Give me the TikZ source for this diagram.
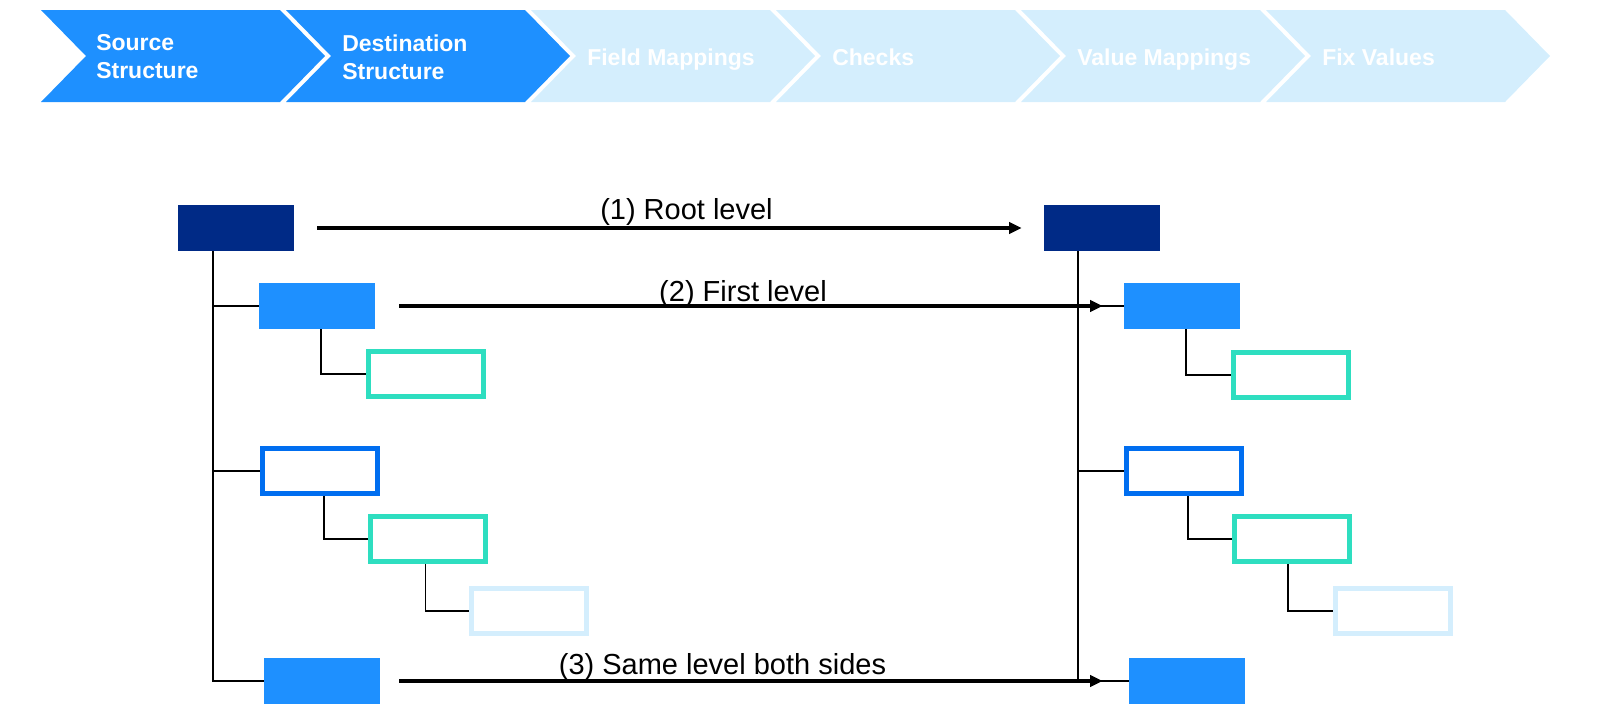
\documentclass[tikz,border=0pt]{standalone}
\usepackage{fontspec}
\setmainfont{Liberation Sans}
\usetikzlibrary{arrows.meta,calc}
\definecolor{navyc}{RGB}{0,42,134}
\definecolor{dbluec}{RGB}{30,144,255}
\definecolor{obluec}{RGB}{0,110,240}
\definecolor{tealc}{RGB}{46,222,192}
\definecolor{lbluec}{RGB}{212,238,253}
\pgfdeclarelayer{bg}
\pgfsetlayers{bg,main}
\begin{document}
\begin{tikzpicture}[x=0.75pt,y=-0.75pt,
 chevtext/.style={anchor=west,align=left,text=white,font=\bfseries\fontsize{17.25pt}{21pt}\selectfont,inner sep=0pt},
 chevone/.style={anchor=base west,text=white,font=\bfseries\fontsize{17.25pt}{21pt}\selectfont,inner sep=0pt},
 fillbox/.style={fill=#1,minimum width=87pt,minimum height=34.5pt,inner sep=0pt},
 linebox/.style={draw=#1,line width=3.75pt,fill=white,minimum width=86.25pt,minimum height=33.75pt,inner sep=0pt},
 tree/.style={line width=0.9pt,black},
 maparrow/.style={line width=2.8pt,-{Triangle[length=9.5pt,width=8.5pt]}},
 lbl/.style={anchor=base,inner sep=0pt,font=\fontsize{21.75pt}{26pt}\selectfont}
]
\useasboundingbox (0,0) rectangle (1600,715);
% chevrons
\foreach \k/\c in {0/dbluec,1/dbluec,2/lbluec,3/lbluec,4/lbluec,5/lbluec}{
  \pgfmathsetmacro\L{41+245*\k}
  \fill[\c] (\L,10) -- ++(239,0) -- ++(45,46) -- ++(-45,46) -- ++(-239,0) -- ++(45,-46) -- cycle;
}
\node[chevtext] (t1) at (96,57) {Source\\Structure};
\node[chevtext] (t2) at (342,57) {Destination\\Structure};
\node[chevone] (t3) at (587,65) {Field Mappings};
\node[chevone] (t4) at (832,65) {Checks};
\node[chevone] (t5) at (1077,65) {Value Mappings};
\node[chevone] (t6) at (1322,65) {Fix Values};

% left tree
\node[fillbox=navyc] (root) at (236,228) {};
\node[fillbox=dbluec] (A) at (317,306) {};
\node[linebox=tealc] (A1) at (426,374) {};
\node[linebox=obluec] (B) at (320,471) {};
\node[linebox=tealc] (B1) at (428,539) {};
\node[linebox=lbluec] (B11) at (529,611) {};
\node[fillbox=dbluec] (C) at (322,681) {};
% right tree
\node[fillbox=navyc] (rroot) at (1102,228) {};
\node[fillbox=dbluec] (rA) at (1182,306) {};
\node[linebox=tealc] (rA1) at (1291,375) {};
\node[linebox=obluec] (rB) at (1184,471) {};
\node[linebox=tealc] (rB1) at (1292,539) {};
\node[linebox=lbluec] (rB11) at (1393,611) {};
\node[fillbox=dbluec] (rC) at (1187,681) {};

\coordinate (lt) at (213,681);
\coordinate (rt) at (1078,681);
\begin{pgfonlayer}{bg}
\draw[tree] (root.south -| lt) -- (lt) -- (C.west);
\draw[tree] (A.west -| lt) -- (A.west);
\draw[tree] (B.west -| lt) -- (B.west);
\draw[tree] ([xshift=3pt]A.south) |- (A1.west);
\draw[tree] ([xshift=3pt]B.south) |- (B1.west);
\draw[tree] ([xshift=-2pt]B1.south) |- (B11.west);
\draw[tree] (rroot.south -| rt) -- (rt) -- (rC.west);
\draw[tree] (rA.west -| rt) -- (rA.west);
\draw[tree] (rB.west -| rt) -- (rB.west);
\draw[tree] ([xshift=3pt]rA.south) |- (rA1.west);
\draw[tree] ([xshift=3pt]rB.south) |- (rB1.west);
\draw[tree] ([xshift=-3pt]rB1.south) |- (rB11.west);
\end{pgfonlayer}

% mapping arrows
\draw[maparrow] ([xshift=17.25pt]root.east) -- ([xshift=-16.5pt]rroot.west);
\draw[maparrow] ([xshift=18pt]A.east) -- ([xshift=-15.75pt]rA.west);
\draw[maparrow] ([xshift=14.25pt]C.east) -- ([xshift=-19.5pt]rC.west);
\node[lbl] (l1) at (686.5,219) {(1) Root level};
\node[lbl] (l2) at (743,301) {(2) First level};
\node[lbl] (l3) at (722.5,674) {(3) Same level both sides};
\end{tikzpicture}
\end{document}
